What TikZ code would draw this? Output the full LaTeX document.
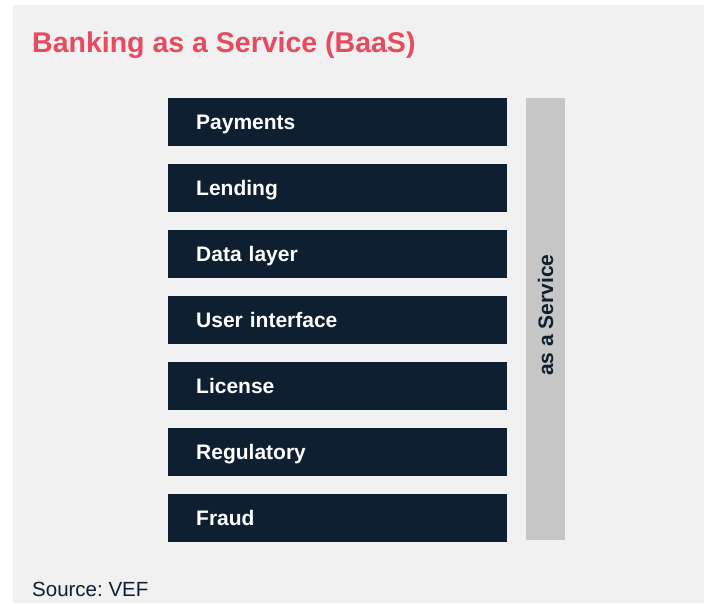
\documentclass[tikz,border=0pt]{standalone}
\usepackage{fontspec}
\setmainfont{Liberation Sans}
\usetikzlibrary{positioning}
\frenchspacing

\definecolor{pagebg}{HTML}{F0F1F0}
\definecolor{navy}{HTML}{0E1F31}
\definecolor{baasred}{HTML}{E84A5F}
\definecolor{bargray}{HTML}{C6C6C6}

\tikzset{
	layer/.style={fill=navy, text=white, anchor=north west,
		minimum width=339pt, minimum height=48pt,
		text width=283pt, inner xsep=28pt, inner ysep=0pt,
		text height=15pt, text depth=0pt, align=left,
		font=\fontsize{21}{24}\selectfont\bfseries},
}

\begin{document}
\begin{tikzpicture}[x=1pt, y=-1pt]

% frame %{{{1

	\useasboundingbox (0,0) rectangle (704,603);
	\fill[pagebg] (13,5) rectangle (704,603);

% title %{{{1

	\node[anchor=base west, text=baasred, inner sep=0pt,
		font=\fontsize{28.5}{32}\selectfont\bfseries]
		(title) at (32,52) {Banking as a Service (BaaS)};

% layers %{{{1

	\node[layer] (pay) at (168,98) {Payments};
	\node[layer] (lend) at (168,164) {Lending};
	\node[layer] (data) at (168,230) {Data layer};
	\node[layer] (ui) at (168,296) {User interface};
	\node[layer] (lic) at (168,362) {License};
	\node[layer] (reg) at (168,428) {Regulatory};
	\node[layer] (fraud) at (168,494) {Fraud};

% service bar %{{{1

	\node[fill=bargray, anchor=north west, inner sep=0pt,
		minimum width=39pt, minimum height=442pt] (svc) at (526,98) {};
	\node[rotate=90, text=navy, inner sep=0pt,
		font=\fontsize{21}{24}\selectfont\bfseries]
		(svclabel) at (545.5,315) {as a Service};

% source %{{{1

	\node[anchor=base west, text=navy, inner sep=0pt,
		font=\fontsize{20.5}{24}\selectfont]
		(source) at (32,596) {Source: VEF};

% closing %{{{1

\end{tikzpicture}
\end{document}
